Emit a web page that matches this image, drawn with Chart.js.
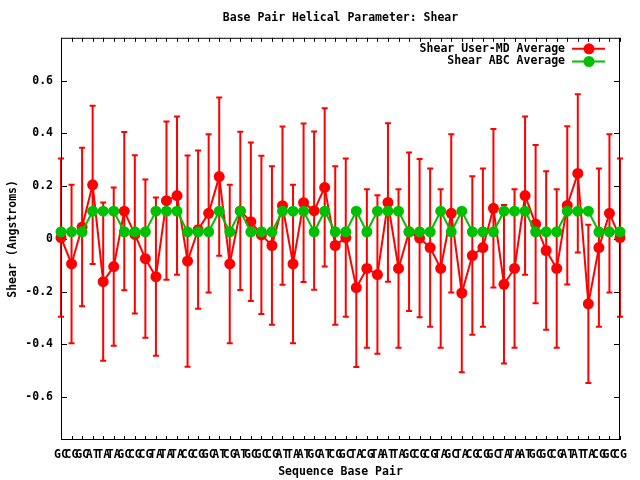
<!DOCTYPE html>
<html>
<head>
<meta charset="utf-8">
<script src="https://cdn.jsdelivr.net/npm/chart.js@4/dist/chart.umd.min.js"></script>
<style>
html, body { margin: 0; padding: 0; background: #fff; }
</style>
</head>
<body>
<canvas id="chart" width="640" height="480"></canvas>
<script>
// base pairs along the sequence
const basePairs = ['GC', 'CG', 'GC', 'AT', 'TA', 'TA', 'GC', 'CG', 'CG', 'TA',
    'TA', 'TA', 'CG', 'CG', 'GC', 'AT', 'CG', 'AT', 'GC', 'GC',
    'CG', 'AT', 'TA', 'AT', 'GC', 'AT', 'CG', 'GC', 'TA', 'CG',
    'TA', 'AT', 'TA', 'GC', 'CG', 'CG', 'TA', 'GC', 'TA', 'CG',
    'CG', 'GC', 'TA', 'TA', 'AT', 'GC', 'GC', 'CG', 'AT', 'AT',
    'TA', 'CG', 'GC', 'CG'];
const userMD = [0.005, -0.095, 0.045, 0.205, -0.162, -0.105, 0.105, 0.017, -0.075, -0.143,
    0.145, 0.164, -0.084, 0.035, 0.097, 0.236, -0.095, 0.106, 0.065, 0.015,
    -0.025, 0.126, -0.095, 0.137, 0.107, 0.195, -0.025, 0.005, -0.185, -0.112,
    -0.135, 0.138, -0.112, 0.027, 0.003, -0.033, -0.112, 0.097, -0.205, -0.063,
    -0.033, 0.116, -0.172, -0.112, 0.164, 0.056, -0.044, -0.112, 0.127, 0.248,
    -0.246, -0.033, 0.097, 0.005];
const userMDErr = [0.3, 0.3, 0.3, 0.3, 0.3, 0.3, 0.3, 0.3, 0.3, 0.3,
    0.3, 0.3, 0.4, 0.3, 0.3, 0.3, 0.3, 0.3, 0.3, 0.3,
    0.3, 0.3, 0.3, 0.3, 0.3, 0.3, 0.3, 0.3, 0.3, 0.3,
    0.3, 0.3, 0.3, 0.3, 0.3, 0.3, 0.3, 0.3, 0.3, 0.3,
    0.3, 0.3, 0.3, 0.3, 0.3, 0.3, 0.3, 0.3, 0.3, 0.3,
    0.3, 0.3, 0.3, 0.3];
const abcAvg = [0.027, 0.027, 0.027, 0.105, 0.105, 0.105, 0.027, 0.027, 0.027, 0.105,
    0.105, 0.105, 0.027, 0.027, 0.027, 0.105, 0.027, 0.105, 0.027, 0.027,
    0.027, 0.105, 0.105, 0.105, 0.027, 0.105, 0.027, 0.027, 0.105, 0.027,
    0.105, 0.105, 0.105, 0.027, 0.027, 0.027, 0.105, 0.027, 0.105, 0.027,
    0.027, 0.027, 0.105, 0.105, 0.105, 0.027, 0.027, 0.027, 0.105, 0.105,
    0.105, 0.027, 0.027, 0.027];
const yTicks = [-0.6, -0.4, -0.2, 0, 0.2, 0.4, 0.6];
const yMin = -0.762;
const yMax = 0.762;

const FONT = 'DejaVu Sans Mono';
const RED = 'rgb(255,0,0)';
const GREEN = 'rgb(0,192,0)';

// error bars under the red line
const errorBars = {
    id: 'errorBars',
    beforeDatasetsDraw(chart) {
        const ctx = chart.ctx, x = chart.scales.x, y = chart.scales.y;
        ctx.save();
        ctx.strokeStyle = RED;
        ctx.lineWidth = 2;
        userMD.forEach((v, i) => {
            const px = x.getPixelForValue(i);
            const top = y.getPixelForValue(v + userMDErr[i]);
            const bot = y.getPixelForValue(v - userMDErr[i]);
            ctx.beginPath();
            ctx.moveTo(px, top); ctx.lineTo(px, bot);
            ctx.moveTo(px - 3, top); ctx.lineTo(px + 3, top);
            ctx.moveTo(px - 3, bot); ctx.lineTo(px + 3, bot);
            ctx.stroke();
        });
        ctx.restore();
    }
};

// gnuplot style border with inward ticks on all sides
const frame = {
    id: 'frame',
    beforeDatasetsDraw(chart) {
        const ctx = chart.ctx, a = chart.chartArea, x = chart.scales.x, y = chart.scales.y;
        ctx.save();
        ctx.strokeStyle = '#000';
        ctx.lineWidth = 1;
        ctx.strokeRect(a.left + 0.5, a.top + 0.5, a.right - a.left - 1, a.bottom - a.top - 1);
        ctx.beginPath();
        yTicks.forEach(v => {
            const py = Math.round(y.getPixelForValue(v)) + 0.5;
            ctx.moveTo(a.left, py); ctx.lineTo(a.left + 6, py);
            ctx.moveTo(a.right, py); ctx.lineTo(a.right - 6, py);
        });
        basePairs.forEach((l, i) => {
            const px = Math.round(x.getPixelForValue(i)) + 0.5;
            ctx.moveTo(px, a.bottom); ctx.lineTo(px, a.bottom - 4);
            ctx.moveTo(px, a.top); ctx.lineTo(px, a.top + 4);
        });
        ctx.stroke();
        ctx.restore();
    }
};

// key in the top right corner, text then sample
const key = {
    id: 'key',
    afterDraw(chart) {
        const ctx = chart.ctx, a = chart.chartArea;
        ctx.save();
        ctx.font = 'bold 11.5px "' + FONT + '"';
        ctx.textAlign = 'right';
        ctx.textBaseline = 'middle';
        chart.data.datasets.forEach((ds, i) => {
            const ky = a.top + 11 + i * 12.7;
            ctx.fillStyle = '#000';
            ctx.fillText(ds.label, a.right - 55, ky);
            ctx.strokeStyle = ds.borderColor;
            ctx.lineWidth = 2;
            ctx.beginPath();
            ctx.moveTo(a.right - 48, ky); ctx.lineTo(a.right - 15, ky);
            ctx.stroke();
            ctx.fillStyle = ds.borderColor;
            ctx.beginPath();
            ctx.arc(a.right - 31, ky, 5.5, 0, Math.PI * 2);
            ctx.fill();
        });
        ctx.restore();
    }
};

new Chart(document.getElementById('chart'), {
    type: 'line',
    data: {
        labels: basePairs,
        datasets: [{
            label: 'Shear User-MD Average',
            data: userMD,
            borderColor: RED,
            backgroundColor: RED,
            pointBackgroundColor: RED,
            borderWidth: 2,
            pointRadius: 5.5,
            pointBorderWidth: 0,
            tension: 0,
            clip: false,
            order: 1
        }, {
            label: 'Shear ABC Average',
            data: abcAvg,
            borderColor: GREEN,
            backgroundColor: GREEN,
            pointBackgroundColor: GREEN,
            borderWidth: 2,
            pointRadius: 5.5,
            pointBorderWidth: 0,
            tension: 0,
            clip: false,
            order: 0
        }]
    },
    options: {
        responsive: false,
        animation: false,
        layout: { padding: { left: 0, right: 20, top: 0, bottom: 0 } },
        plugins: {
            legend: { display: false },
            tooltip: { enabled: false },
            title: {
                display: true,
                text: 'Base Pair Helical Parameter: Shear',
                color: '#000',
                fullSize: false,
                font: { family: FONT, size: 11.5, weight: 'bold' },
                padding: { top: 11, bottom: 13 }
            }
        },
        scales: {
            x: {
                type: 'category',
                offset: false,
                grid: { display: false, drawTicks: false },
                border: { display: false },
                ticks: {
                    autoSkip: false, maxRotation: 0, minRotation: 0,
                    color: '#000', padding: 8,
                    font: { family: FONT, size: 11.5, weight: 'bold' }
                },
                title: {
                    display: true, text: 'Sequence Base Pair', color: '#000',
                    font: { family: FONT, size: 11.5, weight: 'bold' },
                    padding: { top: 0, bottom: 1 }
                },
                afterFit(scale) { scale.height = 40; }
            },
            y: {
                min: yMin,
                max: yMax,
                grid: { display: false, drawTicks: false },
                border: { display: false },
                afterBuildTicks(axis) { axis.ticks = yTicks.map(v => ({ value: v })); },
                ticks: {
                    color: '#000', padding: 8,
                    font: { family: FONT, size: 11.5, weight: 'bold' },
                    callback: v => String(Math.round(v * 10) / 10)
                },
                title: {
                    display: true, text: 'Shear (Angstroms)', color: '#000',
                    font: { family: FONT, size: 11.5, weight: 'bold' },
                    padding: { top: 6, bottom: 0 }
                },
                afterFit(scale) { scale.width = 61; }
            }
        }
    },
    plugins: [errorBars, frame, key]
});
</script>
</body>
</html>
